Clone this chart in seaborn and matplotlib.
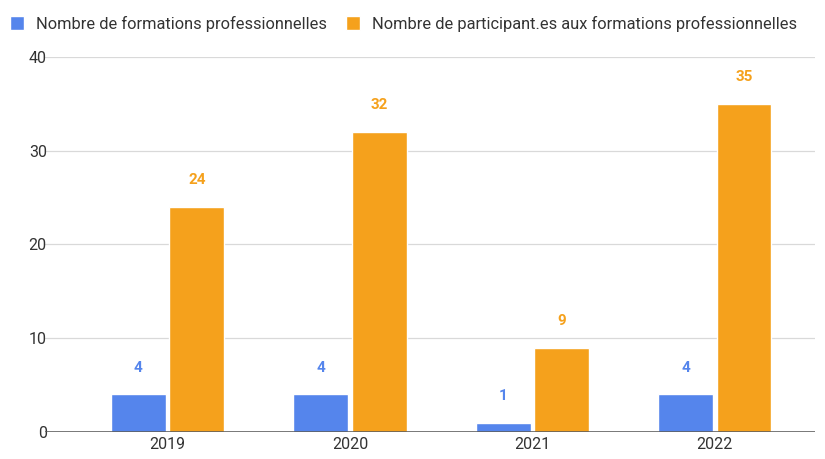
import pandas as pd
import seaborn as sns
import matplotlib.pyplot as plt

annees = ['2019', '2020', '2021', '2022']
nb_formations = [4, 4, 1, 4]
nb_participants = [24, 32, 9, 35]
series = ['Nombre de formations professionnelles',
          'Nombre de participant.es aux formations professionnelles']

df = pd.DataFrame({
    'annee': annees * 2,
    'valeur': nb_formations + nb_participants,
    'serie': [series[0]] * 4 + [series[1]] * 4,
})

couleurs = ['#5585EC', '#F5A11C']

sns.set_style('white')
plt.rcParams['font.family'] = ['Roboto', 'DejaVu Sans']

fig = plt.figure(figsize=(8.25, 4.59), dpi=100)
ax = fig.add_axes([0.055, 0.059, 0.933, 0.817])

sns.barplot(data=df, x='annee', y='valeur', hue='serie', order=annees,
            hue_order=series, palette=couleurs, width=0.64, gap=0.06,
            saturation=1, ax=ax, legend=True, zorder=3)

for cont, c in zip(ax.containers, couleurs):
    ax.bar_label(cont, padding=14, color=c, fontsize=11,
                 fontweight='bold')

ax.set_ylim(0, 40)
ax.set_yticks([0, 10, 20, 30, 40])
ax.set_xlim(-0.67, 3.55)
ax.yaxis.grid(True, color='#d9d9d9', linewidth=0.9, zorder=0)
ax.axhline(0, color='#555555', linewidth=1.1, zorder=4)
for s in ax.spines.values():
    s.set_visible(False)
ax.set_xlabel('')
ax.set_ylabel('')
ax.tick_params(axis='both', length=0, labelsize=11.5, colors='#333333')
ax.tick_params(axis='y', pad=-1)

h, l = ax.get_legend_handles_labels()
ax.get_legend().remove()
fig.legend(h, l, loc='upper left', bbox_to_anchor=(-0.006, 0.998), ncol=2,
           frameon=False, fontsize=11.8, handlelength=0.85, handleheight=0.9,
           columnspacing=1.15, handletextpad=0.75, labelcolor='#333333')

fig.savefig('out.png', dpi=100)
